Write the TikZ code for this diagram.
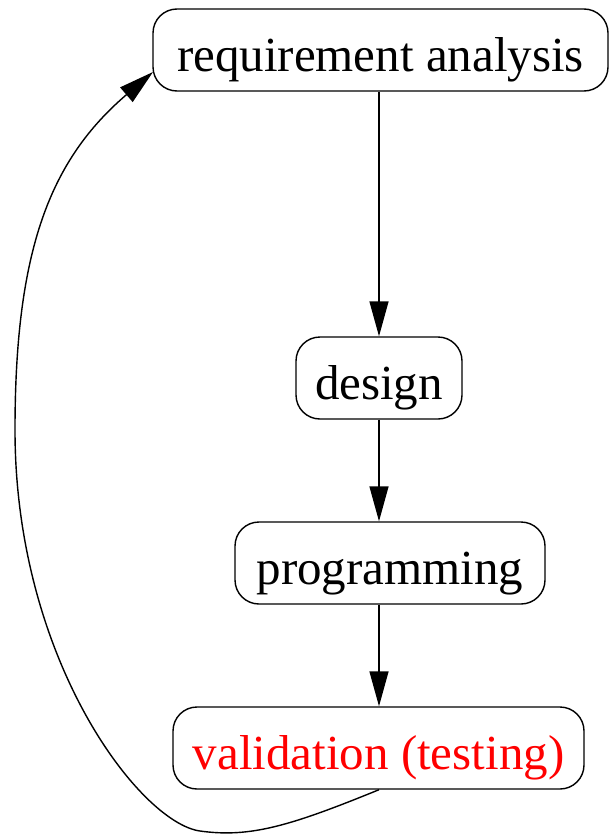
\documentclass[tikz,border=0pt]{standalone}
\usepackage{fontspec}
\setmainfont{Liberation Serif}
\usetikzlibrary{arrows.meta}
\begin{document}
\begin{tikzpicture}[x=1pt,y=-1pt,
  stagebox/.style={draw=black,line width=1.4pt,rounded corners=24pt,inner sep=0pt,
    minimum height=82pt,text height=43pt,text depth=1pt,
    font=\fontsize{49}{58}\selectfont},
  flow/.style={draw=black,line width=1.4pt,-{Triangle[length=35pt,width=19pt]}}]
\useasboundingbox (0,0) rectangle (611,835);
\node[stagebox,minimum width=455pt] (req) at (380.5,50) {requirement analysis};
\node[stagebox,minimum width=166pt] (des) at (379,378) {design};
\node[stagebox,minimum width=310pt] (prog) at (390,563) {programming};
\node[stagebox,minimum width=411pt,text=red] (val) at (378.5,748) {validation (testing)};
\coordinate (fbend) at (153,72);
\draw[flow] (req.south -| des.north) -- (des.north);
\draw[flow] (des.south) -- (des.south |- prog.north);
\draw[flow] (des.south |- prog.south) -- (des.south |- val.north);
\draw[flow] (des.south |- val.south)
  .. controls (290,826) and (250,838) .. (200,831)
  .. controls (140,822.6) and (15,660) .. (15,430)
  .. controls (15,250) and (50,160) .. (fbend);
\end{tikzpicture}
\end{document}
